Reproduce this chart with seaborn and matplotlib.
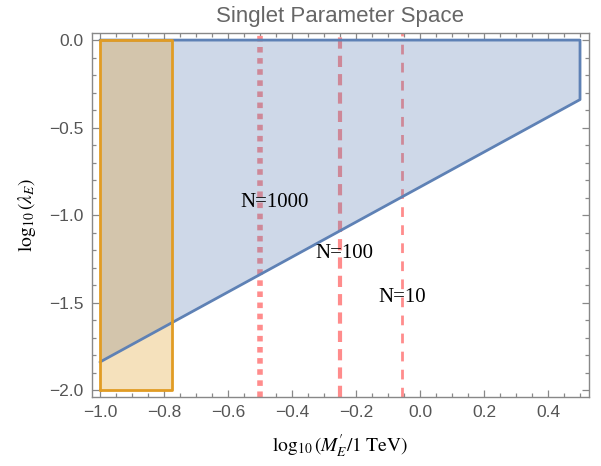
import matplotlib
matplotlib.use("Agg")
import matplotlib.pyplot as plt
from matplotlib.ticker import MultipleLocator
import numpy as np
import pandas as pd
import seaborn as sns

# Allowed region (blue) boundary vertices
region_x = [-1.0, 0.5, 0.5, -1.0]
region_y = [-1.84, -0.34, 0.0, 0.0]

# Excluded band (orange) rectangle
band_x = [-1.0, -0.775, -0.775, -1.0]
band_y = [-2.0, -2.0, 0.0, 0.0]

# Vertical N contours
n_labels = ["N=1000", "N=100", "N=10"]
n_x = [-0.5, -0.25, -0.057]
label_x = [-0.455, -0.236, -0.057]
label_y = [-0.93, -1.217, -1.47]

x_ticks = [-1.0, -0.8, -0.6, -0.4, -0.2, 0.0, 0.2, 0.4]
y_ticks = [-2.0, -1.5, -1.0, -0.5, 0.0]

sns.set_theme(style="ticks")
plt.rcParams["font.family"] = ["Liberation Sans", "DejaVu Sans"]
plt.rcParams["mathtext.fontset"] = "stix"

fig = plt.figure(figsize=(6.01, 4.66), dpi=100)
ax = fig.add_axes([0.153, 0.148, 0.827, 0.781])

blue = (0.368417, 0.506779, 0.709798)
orange = (0.880722, 0.611041, 0.142051)
pink = (1.0, 0.55, 0.55)

# N contours, drawn beneath the shaded regions
line_styles = [(4.0, (1.0, 1.0)), (3.0, (2.7, 1.7)), (2.0, (3.5, 3.0))]
for xv, (lw, dash) in zip(n_x, line_styles):
    ax.axvline(xv, color=pink, lw=lw, dashes=dash, zorder=1)

# Shaded regions
ax.fill(region_x, region_y, color=blue, alpha=0.3, lw=0, zorder=2)
ax.fill(band_x, band_y, color=orange, alpha=0.3, lw=0, zorder=3)

# Region outlines
outline = pd.DataFrame({"x": region_x + [region_x[0]], "y": region_y + [region_y[0]]})
sns.lineplot(data=outline.iloc[:4], x="x", y="y", sort=False, estimator=None,
             color=blue, lw=2, ax=ax, zorder=4)
band_outline = pd.DataFrame({"x": band_x + [band_x[0]], "y": band_y + [band_y[0]]})
sns.lineplot(data=band_outline, x="x", y="y", sort=False, estimator=None,
             color=orange, lw=2, ax=ax, zorder=5)

for txt, lx, ly in zip(n_labels, label_x, label_y):
    ax.text(lx, ly, txt, ha="center", va="center", fontsize=15,
            family="Liberation Serif", color="black", zorder=6)

ax.set_xlim(-1.025, 0.528)
ax.set_ylim(-2.04, 0.04)
ax.set_xticks(x_ticks)
ax.set_yticks(y_ticks)
ax.set_xticklabels([f"{v:.1f}".replace("-", "\u2212") for v in x_ticks])
ax.set_yticklabels([f"{v:.1f}".replace("-", "\u2212") for v in y_ticks])
ax.xaxis.set_minor_locator(MultipleLocator(0.05))
ax.yaxis.set_minor_locator(MultipleLocator(0.1))
ax.tick_params(which="both", direction="in", top=True, right=True,
               color="#888888", width=0.9)
ax.tick_params(which="major", length=5, labelsize=12.5, labelcolor="#555555", pad=6)
ax.tick_params(which="minor", length=3)
for sp in ax.spines.values():
    sp.set_color("#888888")
    sp.set_linewidth(1.0)

ax.set_xlabel(r"$\log_{10}(M_{E}^{\prime}/1\ \mathrm{TeV})$", fontsize=14, color="black", labelpad=9)
ax.set_ylabel(r"$\log_{10}(\lambda_{E})$", fontsize=14, color="black", labelpad=8)
ax.set_title("Singlet Parameter Space", fontsize=16, color="#666666", pad=8)

fig.savefig("out.png", dpi=100)
